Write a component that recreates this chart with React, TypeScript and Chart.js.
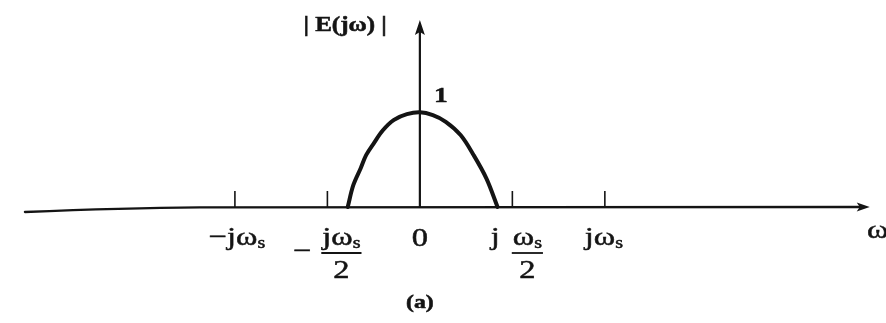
import { useEffect, useRef } from "react";
import { Chart, registerables } from "chart.js";

Chart.register(...registerables);

// Frequency axis in units of the sampling frequency ωs; magnitude normalised to 1 at ω = 0.
const omegaValues = [-0.39, -0.36, -0.32, -0.29, -0.25, -0.2, -0.14, -0.07, 0, 0.07, 0.14, 0.22, 0.29, 0.36, 0.42];
const magnitudeValues = [0, 0.23, 0.41, 0.55, 0.67, 0.81, 0.92, 0.98, 1, 0.97, 0.9, 0.76, 0.55, 0.3, 0];
const tickValues = [-1, -0.5, 0.5, 1];
const peakLabel = "1";
const yAxisTitle = "| E(jω) |";
const xAxisTitle = "ω";
const caption = "(a)";

const X_MIN = -2.27;
const X_MAX = 2.52;
const Y_MIN = -1.225;
const Y_MAX = 2.186;

const INK = "#141414";
const SERIF = "'Liberation Serif', 'Times New Roman', 'DejaVu Serif', serif";
const STRETCH = 1.25;

type Run = { t: string; size: number; dy?: number; bold?: boolean };

function fontOf(r: Run) {
  return `${r.bold ? "bold " : ""}${r.size}px ${SERIF}`;
}

function runsWidth(ctx: CanvasRenderingContext2D, runs: Run[]) {
  let w = 0;
  for (const r of runs) {
    ctx.font = fontOf(r);
    w += ctx.measureText(r.t).width * STRETCH;
  }
  return w;
}

function drawRuns(
  ctx: CanvasRenderingContext2D,
  runs: Run[],
  x: number,
  baseline: number,
  align: "left" | "center" | "right" = "center"
) {
  const total = runsWidth(ctx, runs);
  let cx = align === "center" ? x - total / 2 : align === "right" ? x - total : x;
  for (const r of runs) {
    ctx.save();
    ctx.font = fontOf(r);
    const w = ctx.measureText(r.t).width;
    ctx.translate(cx, baseline + (r.dy || 0));
    ctx.scale(STRETCH, 1);
    ctx.textAlign = "left";
    ctx.textBaseline = "alphabetic";
    ctx.fillStyle = INK;
    ctx.strokeStyle = INK;
    ctx.lineWidth = 0.5;
    ctx.fillText(r.t, 0, 0);
    ctx.strokeText(r.t, 0, 0);
    ctx.restore();
    cx += w * STRETCH;
  }
  return total;
}

function drawFraction(
  ctx: CanvasRenderingContext2D,
  num: Run[],
  den: Run[],
  cx: number,
  numBase: number,
  barY: number,
  denBase: number
) {
  const w = runsWidth(ctx, num);
  drawRuns(ctx, num, cx, numBase, "center");
  ctx.save();
  ctx.strokeStyle = INK;
  ctx.lineWidth = 1.8;
  ctx.beginPath();
  ctx.moveTo(cx - w / 2 - 1, barY);
  ctx.lineTo(cx + w / 2 + 1, barY);
  ctx.stroke();
  ctx.restore();
  drawRuns(ctx, den, cx, denBase, "center");
}

const jOmegaS = (size: number): Run[] => [
  { t: "jω", size },
  { t: "s", size: Math.round(size * 0.62), dy: 3 },
];
const omegaS = (size: number): Run[] => [
  { t: "ω", size },
  { t: "s", size: Math.round(size * 0.62), dy: 3 },
];

const axesPlugin = {
  id: "axesAndLabels",
  beforeDatasetsDraw(chart: any) {
    const ctx: CanvasRenderingContext2D = chart.ctx;
    const xs = chart.scales.x;
    const ys = chart.scales.y;
    const px = (v: number) => xs.getPixelForValue(v);
    const py = (v: number) => ys.getPixelForValue(v);
    const y0 = py(0);
    const x0 = px(0);

    ctx.save();
    ctx.strokeStyle = INK;
    ctx.fillStyle = INK;
    ctx.lineCap = "round";

    // horizontal ω axis, drooping slightly at its far left end
    ctx.lineWidth = 2.4;
    ctx.beginPath();
    ctx.moveTo(px(-2.135), py(-0.053));
    ctx.quadraticCurveTo(px(-1.6), py(-0.01), px(-1.19), py(-0.004));
    ctx.lineTo(px(2.4), y0);
    ctx.stroke();
    const tipX = px(2.432);
    ctx.beginPath();
    ctx.moveTo(tipX, y0);
    ctx.lineTo(tipX - 13, y0 - 4.5);
    ctx.lineTo(tipX - 10, y0);
    ctx.lineTo(tipX - 13, y0 + 4.5);
    ctx.closePath();
    ctx.fill();

    // vertical |E(jω)| axis
    ctx.lineWidth = 2.2;
    const tipY = py(1.975);
    ctx.beginPath();
    ctx.moveTo(x0, y0);
    ctx.lineTo(x0, tipY + 8);
    ctx.stroke();
    ctx.beginPath();
    ctx.moveTo(x0, tipY);
    ctx.lineTo(x0 - 5, tipY + 15);
    ctx.lineTo(x0, tipY + 12);
    ctx.lineTo(x0 + 5, tipY + 15);
    ctx.closePath();
    ctx.fill();

    // tick marks at ±ωs/2 and ±ωs
    ctx.lineWidth = 1.6;
    ctx.lineCap = "butt";
    for (const v of tickValues) {
      const x = px(v);
      ctx.beginPath();
      ctx.moveTo(x, y0);
      ctx.lineTo(x, y0 - 16);
      ctx.stroke();
    }
    ctx.restore();
  },
  afterDraw(chart: any) {
    const ctx: CanvasRenderingContext2D = chart.ctx;
    const xs = chart.scales.x;
    const ys = chart.scales.y;
    const px = (v: number) => xs.getPixelForValue(v);
    const py = (v: number) => ys.getPixelForValue(v);
    const y0 = py(0);
    const base = y0 + 38;
    const barY = y0 + 46;
    const denBase = y0 + 71;
    const size = 26;

    // −jωs
    drawRuns(ctx, [{ t: "−", size }, ...jOmegaS(size)], px(-1) + 2, base, "center");
    // −jωs/2
    drawRuns(ctx, [{ t: "−", size }], px(-0.5) - 25, barY + 6, "center");
    drawFraction(ctx, jOmegaS(size), [{ t: "2", size }], px(-0.5) + 14, base, barY, denBase);
    // 0
    drawRuns(ctx, [{ t: "0", size }], px(0), base + 1, "center");
    // j ωs/2
    drawRuns(ctx, [{ t: "j", size }], px(0.5) - 17, base, "center");
    drawFraction(ctx, omegaS(size), [{ t: "2", size }], px(0.5) + 15, base, barY, denBase);
    // jωs
    drawRuns(ctx, jOmegaS(size), px(1) - 1, base, "center");
    // ω axis title
    drawRuns(ctx, [{ t: xAxisTitle, size }], px(2.417), y0 + 31, "left");

    // |E(jω)| axis title and peak label
    drawRuns(ctx, [{ t: yAxisTitle, size: 20, bold: true }], px(0) - 33, py(1.86), "right");
    drawRuns(ctx, [{ t: peakLabel, size: 22, bold: true }], px(0.114), py(1.11), "center");

    // caption
    drawRuns(ctx, [{ t: caption, size: 19, bold: true }], px(0), y0 + 101, "center");
  },
};

export default function App() {
  const canvasRef = useRef<HTMLCanvasElement | null>(null);

  useEffect(() => {
    const canvas = canvasRef.current;
    if (!canvas) return;
    const points = omegaValues.map((x, i) => ({ x, y: magnitudeValues[i] }));
    const chart = new Chart(canvas, {
      type: "line",
      data: {
        datasets: [
          {
            data: points,
            borderColor: INK,
            borderWidth: 4,
            borderCapStyle: "round",
            borderJoinStyle: "round",
            pointRadius: 0,
            tension: 0.35,
            fill: false,
            clip: false as any,
          },
        ],
      },
      options: {
        animation: false,
        responsive: true,
        maintainAspectRatio: false,
        layout: { padding: 0 },
        parsing: false as any,
        plugins: {
          legend: { display: false },
          tooltip: { enabled: false },
        },
        scales: {
          x: { type: "linear", min: X_MIN, max: X_MAX, display: false },
          y: { type: "linear", min: Y_MIN, max: Y_MAX, display: false },
        },
      },
      plugins: [axesPlugin],
    });
    return () => chart.destroy();
  }, []);

  return (
    <div
      style={{
        position: "fixed",
        left: 0,
        top: 0,
        width: 886,
        height: 323,
        background: "#ffffff",
      }}
    >
      <canvas ref={canvasRef} />
    </div>
  );
}
